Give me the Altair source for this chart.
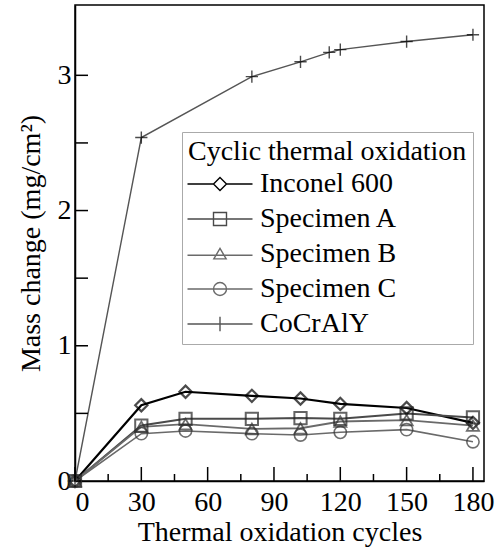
import altair as alt
import pandas as pd

series_names = ["Inconel 600", "Specimen A", "Specimen B", "Specimen C", "CoCrAlY"]

cycles_main = [0, 30, 50, 80, 102, 120, 150, 180]
inconel = [0, 0.56, 0.66, 0.63, 0.61, 0.57, 0.54, 0.43]
spec_a = [0, 0.41, 0.46, 0.46, 0.465, 0.46, 0.50, 0.47]
spec_b = [0, 0.40, 0.42, 0.385, 0.39, 0.44, 0.45, 0.41]
spec_c = [0, 0.35, 0.37, 0.35, 0.34, 0.36, 0.38, 0.29]

cycles_cocraly = [0, 30, 80, 102, 115, 120, 150, 180]
cocraly = [0, 2.54, 2.99, 3.10, 3.17, 3.19, 3.25, 3.30]

x_major = [0, 30, 60, 90, 120, 150, 180]
x_minor = [15, 45, 75, 105, 135, 165]
y_labels = [0, 1, 2, 3]
y_ticks = [0.5, 1, 1.5, 2, 2.5, 3]

rows = []
for name, vals in zip(series_names[:4], [inconel, spec_a, spec_b, spec_c]):
    for c, v in zip(cycles_main, vals):
        rows.append({"series": name, "cycles": c, "mass": v})
for c, v in zip(cycles_cocraly, cocraly):
    rows.append({"series": "CoCrAlY", "cycles": c, "mass": v})
df = pd.DataFrame(rows)

line_colors = ["#000000", "#4a4a4a", "#6a6a6a", "#6a6a6a", "#555555"]
marker_colors = ["#000000", "#222222", "#333333", "#333333", "#000000"]
widths = [2.2, 1.4, 1.4, 1.4, 1.4]

shape_paths = [
    "diamond",
    "square",
    "triangle-up",
    "circle",
    "M-1,0H1M0,-1V1",
]
legend_paths = [
    "M-5,0H-1M1,0H5M0,-1L1,0L0,1L-1,0Z",
    "M-5,0H5M-1,-1H1V1H-1Z",
    "M-5,0.2H5M0,-0.85L0.95,0.75L-0.95,0.75Z",
    "M-5,0H5M1,0A1,1,0,1,1,-1,0A1,1,0,1,1,1,0",
    "M-5,0H5M0,-1.1V1.1",
]

FONT = "Liberation Serif"
W, H = 409, 476
X_MAX, Y_MAX = 185, 3.52
x_scale = alt.Scale(domain=[0, X_MAX], nice=False, zero=True)
y_scale = alt.Scale(domain=[0, Y_MAX], nice=False, zero=True)


def blank_axis():
    return alt.Axis(labels=False, ticks=False, domain=False, title=None, grid=False)


# Lines, with the labelled axes (ticks drawn separately, pointing inward)
lines = alt.Chart(df).mark_line().encode(
    x=alt.X(
        "cycles:Q",
        scale=x_scale,
        axis=alt.Axis(
            orient="bottom",
            title="Thermal oxidation cycles",
            values=x_major,
            ticks=False,
            labelPadding=7,
            titlePadding=2,
            grid=False,
        ),
    ),
    y=alt.Y(
        "mass:Q",
        scale=y_scale,
        axis=alt.Axis(
            orient="left",
            title="Mass change (mg/cm²)",
            values=y_labels,
            format="d",
            ticks=False,
            labelPadding=4,
            titlePadding=12,
            grid=False,
        ),
    ),
    color=alt.Color("series:N", scale=alt.Scale(domain=series_names, range=line_colors), legend=None),
    strokeWidth=alt.StrokeWidth("series:N", scale=alt.Scale(domain=series_names, range=widths), legend=None),
    detail="series:N",
)

points = alt.Chart(df).mark_point(filled=False, size=150).encode(
    x=alt.X("cycles:Q", scale=x_scale, axis=blank_axis()),
    y=alt.Y("mass:Q", scale=y_scale, axis=blank_axis()),
    shape=alt.Shape("series:N", scale=alt.Scale(domain=series_names, range=shape_paths), legend=None),
    stroke=alt.Stroke("series:N", scale=alt.Scale(domain=series_names, range=marker_colors), legend=None),
    strokeWidth=alt.StrokeWidth("series:N", scale=alt.Scale(domain=series_names, range=widths), legend=None),
)

# Invisible points carrying the legend (line + marker symbols)
legend_layer = alt.Chart(df).mark_point(filled=False, opacity=0).encode(
    x=alt.X("cycles:Q", scale=x_scale, axis=blank_axis()),
    y=alt.Y("mass:Q", scale=y_scale, axis=blank_axis()),
    shape=alt.Shape(
        "series:N",
        scale=alt.Scale(domain=series_names, range=legend_paths),
        title="Cyclic thermal oxidation",
        legend=alt.Legend(
            orient="none",
            legendX=107,
            legendY=127,
            symbolSize=169,
            symbolOpacity=1,
            symbolStrokeWidth=1.4,
            symbolOffset=18,
            labelOffset=26,
        ),
    ),
    stroke=alt.Stroke(
        "series:N",
        scale=alt.Scale(domain=series_names, range=line_colors),
        title="Cyclic thermal oxidation",
    ),
)

# Inward tick marks as rules placed through the axis scales
x_major_ticks = (
    alt.Chart(pd.DataFrame({"t": x_major}))
    .transform_calculate(base="0", tip=f"14 * {Y_MAX} / {H}")
    .mark_rule(color="black", strokeWidth=1.5)
    .encode(
        x=alt.X("t:Q", scale=x_scale, axis=blank_axis()),
        y=alt.Y("base:Q", scale=y_scale, axis=blank_axis()),
        y2="tip:Q",
    )
)
x_minor_ticks = (
    alt.Chart(pd.DataFrame({"t": x_minor}))
    .transform_calculate(base="0", tip=f"7 * {Y_MAX} / {H}")
    .mark_rule(color="black", strokeWidth=1.5)
    .encode(
        x=alt.X("t:Q", scale=x_scale, axis=blank_axis()),
        y=alt.Y("base:Q", scale=y_scale, axis=blank_axis()),
        y2="tip:Q",
    )
)
y_tick_marks = (
    alt.Chart(pd.DataFrame({"t": y_ticks}))
    .transform_calculate(base="0", tip=f"13 * {X_MAX} / {W}")
    .mark_rule(color="black", strokeWidth=1.5)
    .encode(
        y=alt.Y("t:Q", scale=y_scale, axis=blank_axis()),
        x=alt.X("base:Q", scale=x_scale, axis=blank_axis()),
        x2="tip:Q",
    )
)

chart = (
    alt.layer(lines, points, legend_layer, x_major_ticks, x_minor_ticks, y_tick_marks)
    .resolve_scale(shape="independent", stroke="independent")
    .resolve_axis(x="independent", y="independent")
    .properties(
        width=W,
        height=H,
        autosize=alt.AutoSizeParams(type="none"),
        padding={"left": 75, "top": 5, "right": 17, "bottom": 70},
        background="white",
    )
    .configure_view(stroke="black", strokeWidth=1.5)
    .configure_axis(
        labelFont=FONT,
        titleFont=FONT,
        labelFontSize=28,
        titleFontSize=28,
        labelColor="black",
        titleColor="black",
        titleFontWeight="normal",
        domainColor="black",
        domainWidth=1.5,
    )
    .configure_legend(
        labelFont=FONT,
        titleFont=FONT,
        labelFontSize=28,
        titleFontSize=28,
        labelColor="black",
        titleColor="black",
        titleFontWeight="normal",
        strokeColor="#aaaaaa",
        fillColor="white",
        padding=6,
        rowPadding=7,
        titlePadding=4,
        labelLimit=0,
        titleLimit=0,
    )
)

chart.save("out.html", embed_options={"renderer": "svg", "actions": False})
